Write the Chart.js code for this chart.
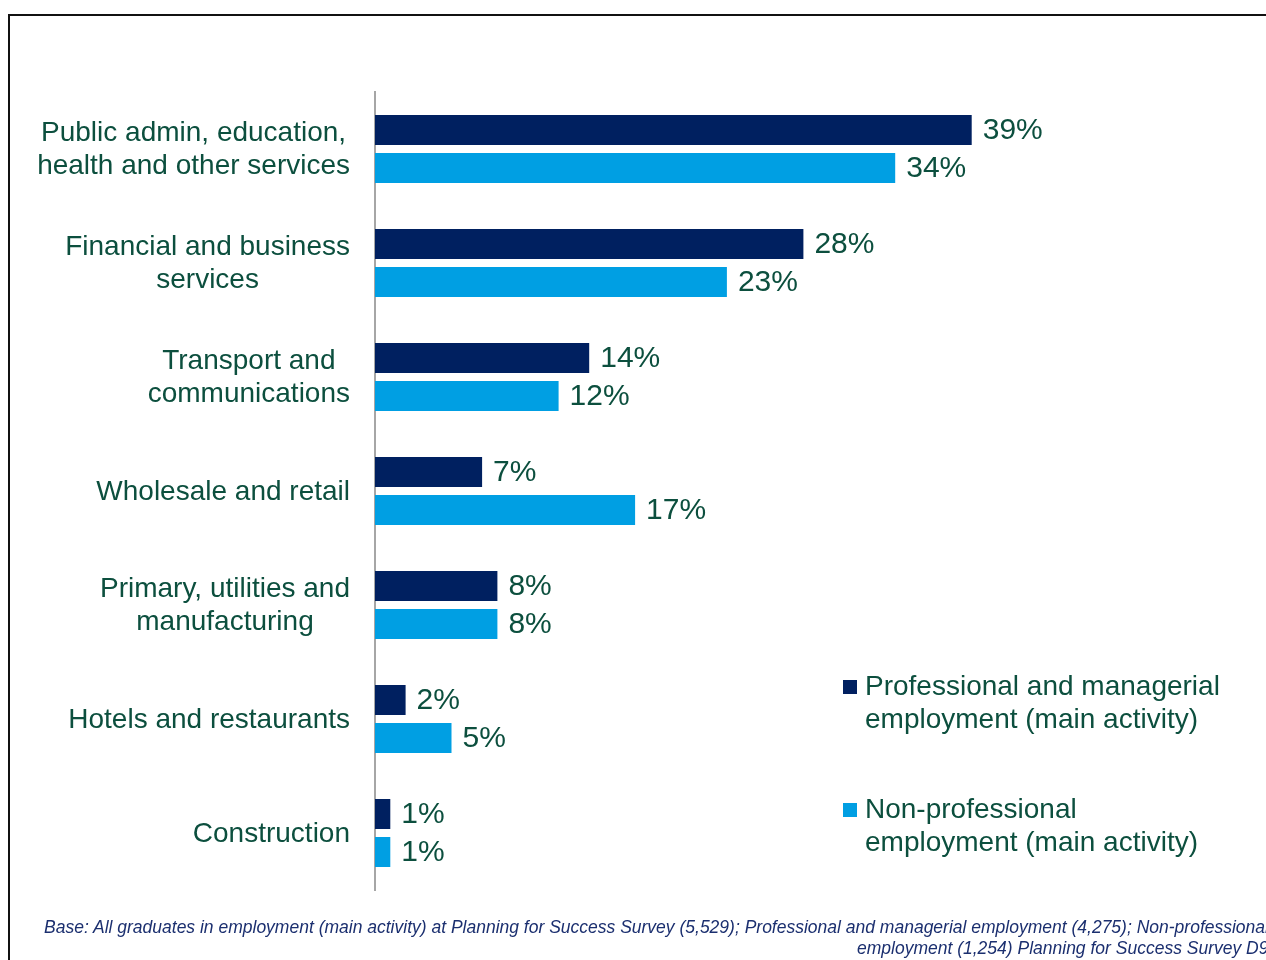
<!DOCTYPE html>
<html>
<head>
<meta charset="utf-8">
<script src="https://cdn.jsdelivr.net/npm/chart.js@4/dist/chart.umd.min.js"></script>
<style>
  html, body { margin: 0; padding: 0; background: #fff; }
  body { width: 1266px; height: 960px; position: relative; overflow: hidden; }
  #frame {
    position: absolute; left: 8px; top: 14px; width: 1400px; height: 1100px;
    border-top: 2px solid #111; border-left: 2px solid #111;
  }
  #wrap { position: absolute; left: 0; top: 0; width: 1266px; height: 960px; }
  .note {
    position: absolute; white-space: nowrap; line-height: 20px;
    font: italic 17.5px "Liberation Sans", Arial, sans-serif; color: #1b2f6f;
  }
</style>
</head>
<body>
<div id="frame"></div>
<div id="wrap"><canvas id="chart" width="1266" height="960"></canvas></div>
<div class="note" style="left:44px; top:917px; line-height:20px;">Base: All graduates in employment (main activity) at Planning for Success Survey (5,529); Professional and managerial employment (4,275); Non-professional</div>
<div class="note" style="left:857px; top:938px; line-height:20px;">employment (1,254) Planning for Success Survey D9</div>
<script>
const sectors = [
  ["Public admin, education,", "health and other services"],
  ["Financial and business", "services"],
  ["Transport and", "communications"],
  ["Wholesale and retail"],
  ["Primary, utilities and", "manufacturing"],
  ["Hotels and restaurants"],
  ["Construction"],
];
const professional = [39, 28, 14, 7, 8, 2, 1];
const nonProfessional = [34, 23, 12, 17, 8, 5, 1];
const seriesNames = [
  ["Professional and managerial", "employment (main activity)"],
  ["Non-professional", "employment (main activity)"],
];

const FONT = '"Liberation Sans", Arial, sans-serif';
const TEXT = "#0c4f3e";
const DARK = "#002060";
const LIGHT = "#009fe3";

// category names: right-aligned blocks, lines centred inside each block
const sectorLabels = {
  id: "sectorLabels",
  afterDraw(chart) {
    const { ctx, scales } = chart;
    const y = scales.y;
    ctx.save();
    ctx.font = "28px " + FONT;
    ctx.fillStyle = TEXT;
    ctx.textAlign = "center";
    ctx.textBaseline = "middle";
    chart.data.labels.forEach((lines, i) => {
      const w = Math.max(...lines.map(l => ctx.measureText(l).width));
      const cx = chart.chartArea.left - 25 - w / 2;
      const cy = y.getPixelForTick(i);
      const top = cy - (lines.length - 1) * 33 / 2 + 1;
      lines.forEach((l, j) => ctx.fillText(l, cx, top + j * 33));
    });
    ctx.restore();
  },
};

// percentage after each bar
const valueLabels = {
  id: "valueLabels",
  afterDatasetsDraw(chart) {
    const { ctx } = chart;
    ctx.save();
    ctx.font = "30px " + FONT;
    ctx.fillStyle = TEXT;
    ctx.textAlign = "left";
    ctx.textBaseline = "middle";
    chart.data.datasets.forEach((ds, di) => {
      chart.getDatasetMeta(di).data.forEach((bar, i) => {
        ctx.fillText(ds.data[i] + "%", bar.x + 11, bar.y + 1);
      });
    });
    ctx.restore();
  },
};

// legend in the lower right, two lines per entry
const sideLegend = {
  id: "sideLegend",
  afterDraw(chart) {
    const { ctx } = chart;
    ctx.save();
    ctx.font = "28px " + FONT;
    ctx.textBaseline = "middle";
    ctx.textAlign = "left";
    chart.data.datasets.forEach((ds, i) => {
      const y0 = 687 + i * 123;
      ctx.fillStyle = ds.backgroundColor;
      ctx.fillRect(843, y0 - 7, 14, 14);
      ctx.fillStyle = TEXT;
      seriesNames[i].forEach((l, j) => ctx.fillText(l, 865, y0 + j * 33));
    });
    ctx.restore();
  },
};

new Chart(document.getElementById("chart"), {
  type: "bar",
  data: {
    labels: sectors,
    datasets: [
      { label: seriesNames[0].join(" "), data: professional, backgroundColor: DARK },
      { label: seriesNames[1].join(" "), data: nonProfessional, backgroundColor: LIGHT },
    ],
  },
  options: {
    indexAxis: "y",
    responsive: false,
    animation: false,
    events: [],
    categoryPercentage: 0.667,
    barPercentage: 0.79,
    layout: { padding: { left: 375, right: 279, top: 92, bottom: 70 } },
    plugins: { legend: { display: false }, tooltip: { enabled: false } },
    scales: {
      x: { display: false, min: 0, max: 40 },
      y: {
        ticks: { display: false },
        grid: { display: false, drawTicks: false },
        border: { display: true, color: "#a6a6a6", width: 2 },
        afterFit(scale) { scale.width = 0; },
      },
    },
  },
  plugins: [sectorLabels, valueLabels, sideLegend],
});
</script>
</body>
</html>
